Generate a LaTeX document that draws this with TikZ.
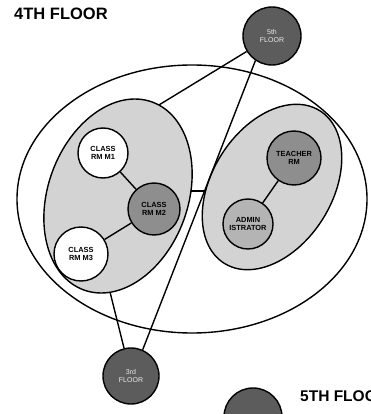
\documentclass[tikz,border=0pt]{standalone}
\usepackage{fontspec}
\setmainfont{Liberation Sans}
\begin{document}
\begin{tikzpicture}[x=1pt,y=1pt,
  lw/.style={line width=1.4pt},
  room/.style={circle, draw, lw, inner sep=0pt, align=center,
    font=\fontsize{7.4}{7.6}\selectfont\bfseries},
  floorc/.style={circle, draw, lw, inner sep=0pt, align=center, fill=floorgray,
    text=black!8, font=\fontsize{7}{7.4}\selectfont},
  zone/.style={draw, lw, fill=zonegray},
  link/.style={lw},
  title/.style={font=\fontsize{16.5}{18}\selectfont\bfseries, inner sep=0pt, anchor=north west}
]
\definecolor{zonegray}{HTML}{D3D3D3}
\definecolor{floorgray}{HTML}{5C5C5C}
\definecolor{darkroom}{HTML}{8E8E8E}
\definecolor{midroom}{HTML}{B4B4B4}
\useasboundingbox (0,0) rectangle (371,-414);
\clip (0,0) rectangle (371,-414);
\fill[white] (0,0) rectangle (371,-414);

% title
\node[title] (t4) at (14,-8) {4TH FLOOR};
\node[title, font=\fontsize{15.5}{17}\selectfont\bfseries] (t5) at (300,-390) {5TH FLOOR};

% floor circles
\node[floorc, minimum size=58pt] (f5) at (272,-36) {5th\\FLOOR};
\node[floorc, minimum size=56pt] (f3) at (131,-376) {3rd\\FLOOR};
\node[floorc, minimum size=58pt] (f4) at (253,-417) {};

% outer ellipse
\draw[lw] (192,-199) ellipse (175 and 134);

% helper coordinates
\coordinate (e1) at (154,-108);
\coordinate (e2) at (108,-284);
\coordinate (hL) at (186,-191);
\coordinate (hR) at (214,-191);
\coordinate (a5) at (f5.236);
\coordinate (a3) at (f3.66);

% connectors hidden partly under zones
\draw[link] (f5) -- (e1);
\draw[link] (e2) -- (f3);
\draw[link] (hL) -- (hR);

% zones
\draw[zone, rotate around={70:(118,-196)}] (118,-196) ellipse (100 and 70);
\draw[zone, rotate around={58:(272,-187)}] (272,-187) ellipse (90 and 60);

% long line
\draw[link] (a5) -- (a3);

% rooms
\node[room, fill=white, minimum size=50pt] (m1) at (103,-153) {CLASS\\RM M1};
\node[room, fill=darkroom, minimum size=52pt] (m2) at (154,-209) {CLASS\\RM M2};
\node[room, fill=white, minimum size=54pt] (m3) at (81,-254) {CLASS\\RM M3};
\node[room, fill=darkroom, minimum size=54pt] (tr) at (294,-158) {TEACHER\\RM};
\node[room, fill=midroom, minimum size=50pt] (ad) at (248,-224) {ADMIN\\ISTRATOR};

\draw[link] (m1) -- (m2);
\draw[link] (m2) -- (m3);
\draw[link] (tr) -- (ad);
\end{tikzpicture}
\end{document}
